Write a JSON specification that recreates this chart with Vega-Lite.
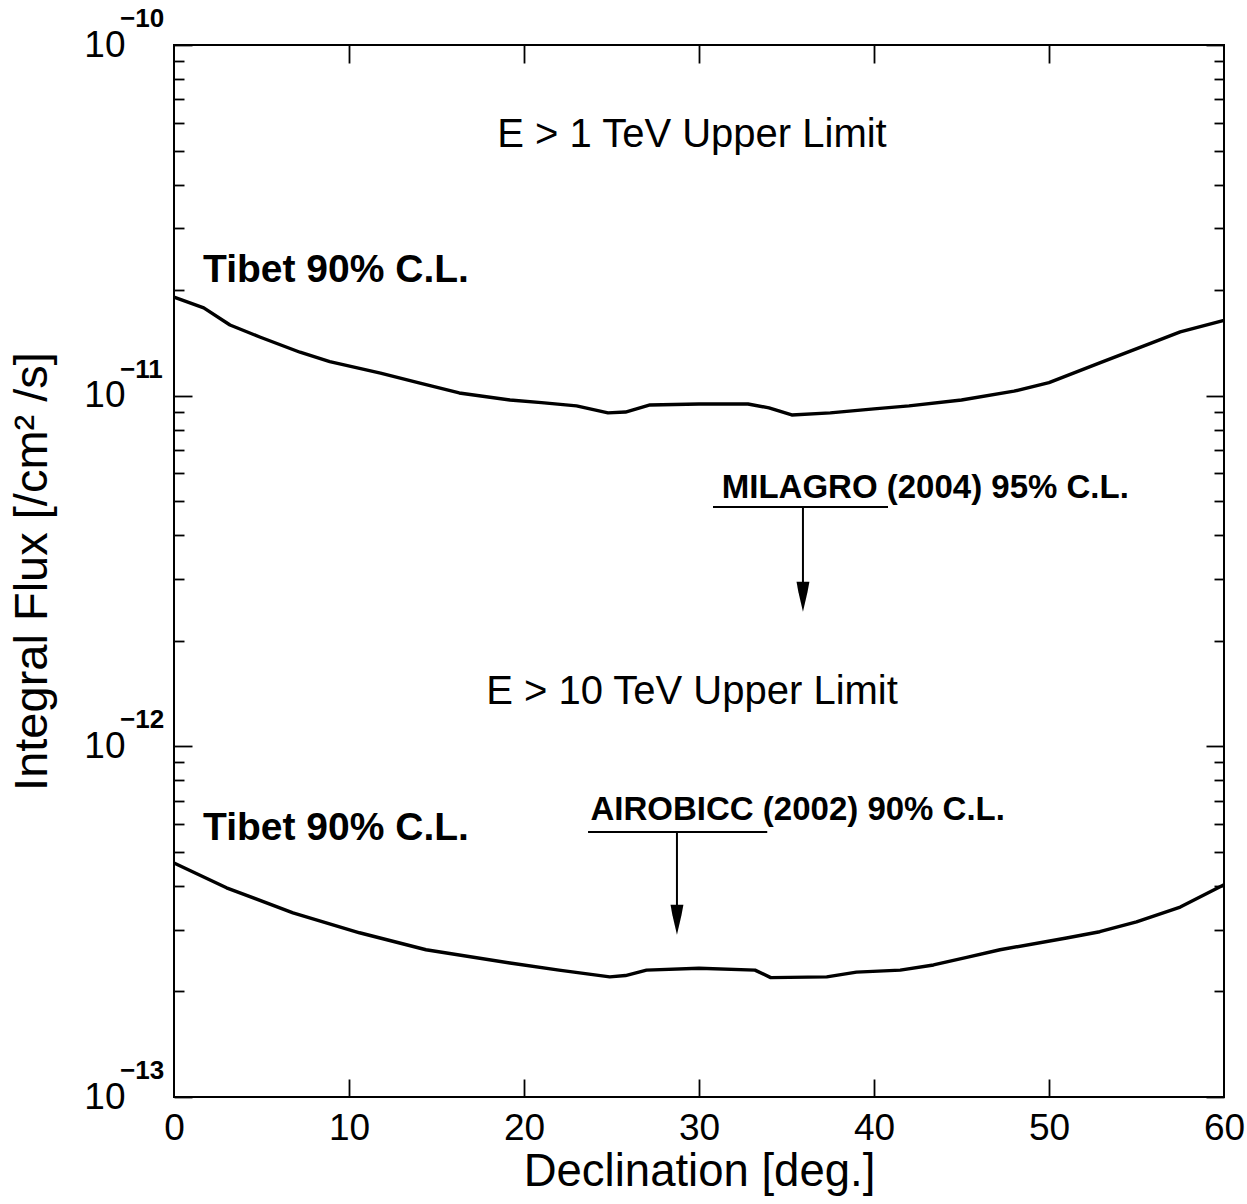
{
  "$schema": "https://vega.github.io/schema/vega-lite/v6.json",
  "width": 1050,
  "height": 1052,
  "autosize": {"type": "none"},
  "padding": {"left": 174, "top": 45, "right": 23, "bottom": 107},
  "background": "white",
  "config": {
    "view": {"stroke": "black", "strokeWidth": 2},
    "font": "Liberation Sans",
    "axis": {
      "domain": false,
      "grid": false,
      "tickColor": "black",
      "tickWidth": 1.8,
      "labelColor": "black",
      "titleColor": "black",
      "labelFont": "Liberation Sans",
      "titleFont": "Liberation Sans",
      "labelFlush": false,
      "labelOverlap": false
    }
  },
  "datasets": {
    "tev1": [
      {"decl": 0, "flux": 1.91e-11},
      {"decl": 1.7, "flux": 1.78e-11},
      {"decl": 3.2, "flux": 1.59e-11},
      {"decl": 4.9, "flux": 1.47e-11},
      {"decl": 7.2, "flux": 1.33e-11},
      {"decl": 8.9, "flux": 1.25e-11},
      {"decl": 11.8, "flux": 1.16e-11},
      {"decl": 14.0, "flux": 1.087e-11},
      {"decl": 16.3, "flux": 1.018e-11},
      {"decl": 19.2, "flux": 9.72e-12},
      {"decl": 21.0, "flux": 9.55e-12},
      {"decl": 23.0, "flux": 9.35e-12},
      {"decl": 24.8, "flux": 8.93e-12},
      {"decl": 25.8, "flux": 8.98e-12},
      {"decl": 27.2, "flux": 9.41e-12},
      {"decl": 30.0, "flux": 9.47e-12},
      {"decl": 32.8, "flux": 9.47e-12},
      {"decl": 34.0, "flux": 9.23e-12},
      {"decl": 35.3, "flux": 8.81e-12},
      {"decl": 37.5, "flux": 8.93e-12},
      {"decl": 40.0, "flux": 9.17e-12},
      {"decl": 42.0, "flux": 9.35e-12},
      {"decl": 45.0, "flux": 9.72e-12},
      {"decl": 48.0, "flux": 1.03e-11},
      {"decl": 50.0, "flux": 1.09e-11},
      {"decl": 52.9, "flux": 1.24e-11},
      {"decl": 55.8, "flux": 1.41e-11},
      {"decl": 57.5, "flux": 1.52e-11},
      {"decl": 60.0, "flux": 1.64e-11}
    ],
    "tev10": [
      {"decl": 0, "flux": 4.65e-13},
      {"decl": 3.0, "flux": 3.95e-13},
      {"decl": 6.8, "flux": 3.35e-13},
      {"decl": 10.6, "flux": 2.94e-13},
      {"decl": 14.4, "flux": 2.63e-13},
      {"decl": 19.2, "flux": 2.41e-13},
      {"decl": 22.0, "flux": 2.30e-13},
      {"decl": 24.9, "flux": 2.20e-13},
      {"decl": 25.8, "flux": 2.22e-13},
      {"decl": 27.0, "flux": 2.30e-13},
      {"decl": 30.0, "flux": 2.33e-13},
      {"decl": 33.2, "flux": 2.30e-13},
      {"decl": 34.1, "flux": 2.19e-13},
      {"decl": 37.3, "flux": 2.20e-13},
      {"decl": 39.0, "flux": 2.27e-13},
      {"decl": 41.5, "flux": 2.30e-13},
      {"decl": 43.4, "flux": 2.38e-13},
      {"decl": 45.3, "flux": 2.50e-13},
      {"decl": 47.2, "flux": 2.63e-13},
      {"decl": 51.0, "flux": 2.84e-13},
      {"decl": 52.9, "flux": 2.96e-13},
      {"decl": 55.0, "flux": 3.16e-13},
      {"decl": 57.5, "flux": 3.48e-13},
      {"decl": 60.0, "flux": 4.03e-13}
    ],
    "headings": [
      {"text": "E > 1 TeV Upper Limit", "decl": 29.6, "flux": 5.54e-11},
      {"text": "E > 10 TeV Upper Limit", "decl": 29.6, "flux": 1.43e-12}
    ],
    "tibet": [
      {"text": "Tibet 90% C.L.", "decl": 1.66, "flux": 2.28e-11},
      {"text": "Tibet 90% C.L.", "decl": 1.66, "flux": 5.85e-13}
    ],
    "refs": [
      {"text": "MILAGRO (2004) 95% C.L.", "decl": 31.3, "flux": 5.45e-12},
      {"text": "AIROBICC (2002) 90% C.L.", "decl": 23.8, "flux": 6.59e-13}
    ],
    "underlines": [
      {"from": 30.8, "to": 40.8, "flux": 4.815e-12},
      {"from": 23.66, "to": 33.9, "flux": 5.70e-13}
    ],
    "arrows": [
      {"decl": 35.94, "top": 4.815e-12, "head": 2.67e-12},
      {"decl": 28.74, "top": 5.70e-13, "head": 3.20e-13}
    ],
    "exponents": [
      {"exp": "−10", "flux": 1e-10},
      {"exp": "−11", "flux": 1e-11},
      {"exp": "−12", "flux": 1e-12},
      {"exp": "−13", "flux": 1e-13}
    ]
  },
  "resolve": {
    "scale": {"x": "shared", "y": "shared"},
    "axis": {"x": "independent", "y": "independent"}
  },
  "layer": [
    {
      "data": {"name": "tev1"},
      "mark": {"type": "line", "color": "black", "strokeWidth": 3.4, "strokeJoin": "round"},
      "encoding": {
        "x": {
          "field": "decl", "type": "quantitative",
          "scale": {"domain": [0, 60], "nice": false, "zero": false},
          "axis": {
            "orient": "bottom", "values": [0, 10, 20, 30, 40, 50, 60],
            "ticks": false, "labelFontSize": 37, "labelPadding": 13,
            "title": "Declination [deg.]", "titleFontSize": 45.5,
            "titleFontWeight": "normal", "titlePadding": 3
          }
        },
        "y": {
          "field": "flux", "type": "quantitative",
          "scale": {"type": "log", "domain": [1e-13, 1e-10], "nice": false},
          "axis": {
            "orient": "left", "values": [1e-13, 1e-12, 1e-11, 1e-10],
            "labelExpr": "'10'", "ticks": false, "labelFontSize": 37,
            "labelPadding": 49, "labelBaseline": "middle",
            "title": "Integral Flux [/cm² /s]", "titleFontSize": 47,
            "titleFontWeight": "normal", "titlePadding": 27
          }
        }
      }
    },
    {
      "data": {"name": "tev10"},
      "mark": {"type": "line", "color": "black", "strokeWidth": 3.4, "strokeJoin": "round"},
      "encoding": {
        "x": {
          "field": "decl", "type": "quantitative",
          "scale": {"domain": [0, 60], "nice": false, "zero": false},
          "axis": {"orient": "bottom", "values": [10, 20, 30, 40, 50], "labels": false, "tickSize": -18, "title": null}
        },
        "y": {
          "field": "flux", "type": "quantitative",
          "scale": {"type": "log", "domain": [1e-13, 1e-10], "nice": false},
          "axis": {"orient": "left", "values": [1e-13, 1e-12, 1e-11, 1e-10], "labels": false, "tickSize": -18, "title": null}
        }
      }
    },
    {
      "data": {"name": "headings"},
      "mark": {"type": "text", "color": "black", "fontSize": 40, "align": "center", "baseline": "middle"},
      "encoding": {
        "text": {"field": "text"},
        "x": {
          "field": "decl", "type": "quantitative",
          "scale": {"domain": [0, 60], "nice": false, "zero": false},
          "axis": {"orient": "top", "values": [10, 20, 30, 40, 50], "labels": false, "tickSize": -18, "title": null}
        },
        "y": {
          "field": "flux", "type": "quantitative",
          "scale": {"type": "log", "domain": [1e-13, 1e-10], "nice": false},
          "axis": {
            "orient": "left", "labels": false, "tickSize": -10, "title": null,
            "values": [2e-13, 3e-13, 4e-13, 5e-13, 6e-13, 7e-13, 8e-13, 9e-13,
                       2e-12, 3e-12, 4e-12, 5e-12, 6e-12, 7e-12, 8e-12, 9e-12,
                       2e-11, 3e-11, 4e-11, 5e-11, 6e-11, 7e-11, 8e-11, 9e-11]
          }
        }
      }
    },
    {
      "data": {"name": "tibet"},
      "mark": {"type": "text", "color": "black", "fontSize": 39, "fontWeight": "bold", "align": "left", "baseline": "middle"},
      "encoding": {
        "text": {"field": "text"},
        "x": {"field": "decl", "type": "quantitative", "axis": null},
        "y": {
          "field": "flux", "type": "quantitative",
          "scale": {"type": "log", "domain": [1e-13, 1e-10], "nice": false},
          "axis": {"orient": "right", "values": [1e-13, 1e-12, 1e-11, 1e-10], "labels": false, "tickSize": -18, "title": null}
        }
      }
    },
    {
      "data": {"name": "refs"},
      "mark": {"type": "text", "color": "black", "fontSize": 33, "fontWeight": "bold", "align": "left", "baseline": "middle"},
      "encoding": {
        "text": {"field": "text"},
        "x": {"field": "decl", "type": "quantitative", "axis": null},
        "y": {
          "field": "flux", "type": "quantitative",
          "scale": {"type": "log", "domain": [1e-13, 1e-10], "nice": false},
          "axis": {
            "orient": "right", "labels": false, "tickSize": -10, "title": null,
            "values": [2e-13, 3e-13, 4e-13, 5e-13, 6e-13, 7e-13, 8e-13, 9e-13,
                       2e-12, 3e-12, 4e-12, 5e-12, 6e-12, 7e-12, 8e-12, 9e-12,
                       2e-11, 3e-11, 4e-11, 5e-11, 6e-11, 7e-11, 8e-11, 9e-11]
          }
        }
      }
    },
    {
      "data": {"name": "underlines"},
      "mark": {"type": "rule", "color": "black", "strokeWidth": 2},
      "encoding": {
        "x": {"field": "from", "type": "quantitative", "axis": null},
        "x2": {"field": "to"},
        "y": {"field": "flux", "type": "quantitative", "axis": null}
      }
    },
    {
      "data": {"name": "arrows"},
      "mark": {"type": "rule", "color": "black", "strokeWidth": 2},
      "encoding": {
        "x": {"field": "decl", "type": "quantitative", "axis": null},
        "y": {"field": "top", "type": "quantitative", "axis": null},
        "y2": {"field": "head"}
      }
    },
    {
      "data": {"name": "arrows"},
      "mark": {"type": "point", "filled": true, "color": "black", "opacity": 1, "size": 900, "shape": "M-0.43,-1L0.43,-1L0.3,-0.3L0,1L-0.3,-0.3Z"},
      "encoding": {
        "x": {"field": "decl", "type": "quantitative", "axis": null},
        "y": {"field": "head", "type": "quantitative", "axis": null}
      }
    },
    {
      "data": {"name": "exponents"},
      "mark": {"type": "text", "color": "black", "fontSize": 26, "fontWeight": "bold", "align": "left", "baseline": "middle", "dx": -54, "dy": -26},
      "encoding": {
        "text": {"field": "exp"},
        "x": {"datum": 0, "type": "quantitative", "axis": null},
        "y": {"field": "flux", "type": "quantitative", "axis": null}
      }
    }
  ]
}
